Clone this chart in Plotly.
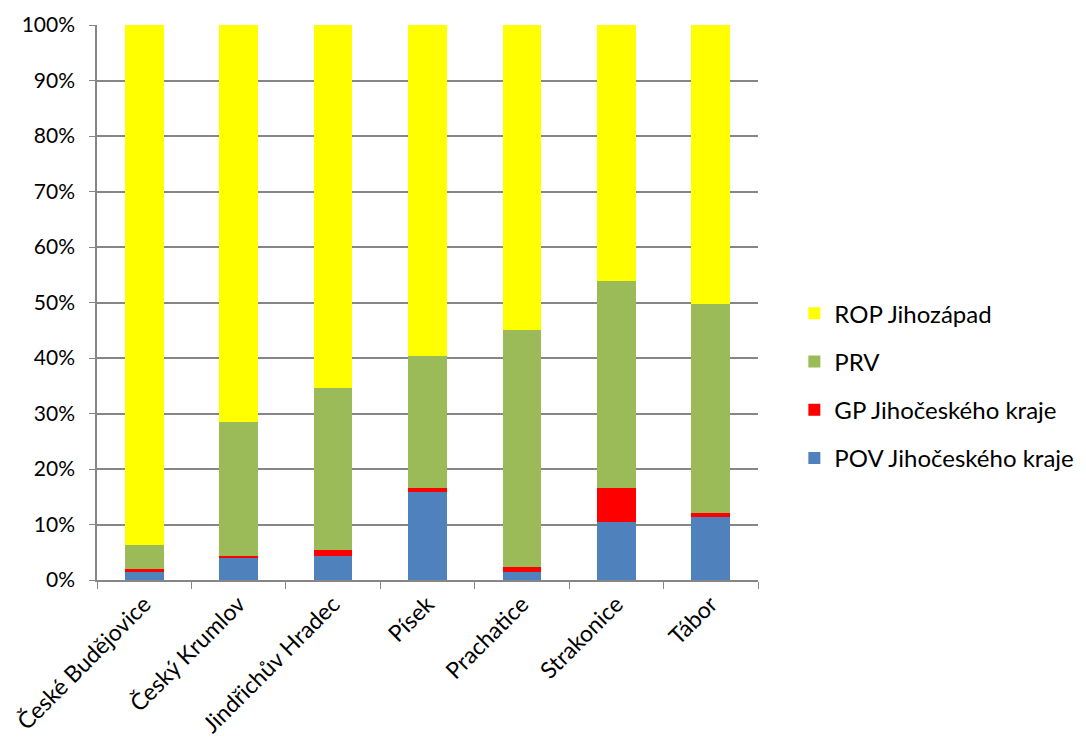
import plotly.graph_objects as go

categories = ["České Budějovice", "Český Krumlov", "Jindřichův Hradec", "Písek",
              "Prachatice", "Strakonice", "Tábor"]
pov = [1.5, 4.0, 4.4, 15.9, 1.5, 10.5, 11.3]
gp = [0.5, 0.3, 0.95, 0.7, 0.8, 6.1, 0.7]
prv = [4.3, 24.2, 29.2, 23.8, 42.8, 37.2, 37.7]
rop = [round(100 - a - b - c, 2) for a, b, c in zip(pov, gp, prv)]

series = [
    ("POV Jihočeského kraje", pov, "#4F81BD"),
    ("GP Jihočeského kraje", gp, "#FF0000"),
    ("PRV", prv, "#9BBB59"),
    ("ROP Jihozápad", rop, "#FFFF00"),
]

fig = go.Figure()
for i, (name, vals, col) in enumerate(series):
    fig.add_trace(go.Bar(x=categories, y=vals, name=name, marker_color=col,
                         marker_line_width=0, legendgroup=str(i),
                         legendrank=1000 - i))

font = "Lato, 'Open Sans', sans-serif"
fig.update_layout(
    barmode="stack",
    bargap=0.59,
    width=1086, height=749,
    margin=dict(l=89, r=336, t=17, b=177, autoexpand=False),
    plot_bgcolor="white", paper_bgcolor="white",
    font=dict(family=font, size=21, color="black"),
    legend=dict(x=1.055, y=0.35, xanchor="left", yanchor="middle",
                traceorder="grouped", tracegroupgap=14,
                font=dict(size=24)),
    xaxis=dict(showline=True, linecolor="#868686", linewidth=1.5, automargin=False,
               ticks="outside", tickson="boundaries", ticklen=7, tickcolor="#868686",
               tickangle=-45, tickfont=dict(size=23)),
    yaxis=dict(range=[0, 100], dtick=10, ticksuffix="%", showgrid=True, automargin=False,
               gridcolor="#868686", gridwidth=1.5, showline=True, linecolor="#868686",
               linewidth=1.5, ticks="outside", ticklen=6, tickcolor="#868686",
               ticklabelstandoff=10, tickfont=dict(size=21), zeroline=False),
)
fig.write_html("out.html")
